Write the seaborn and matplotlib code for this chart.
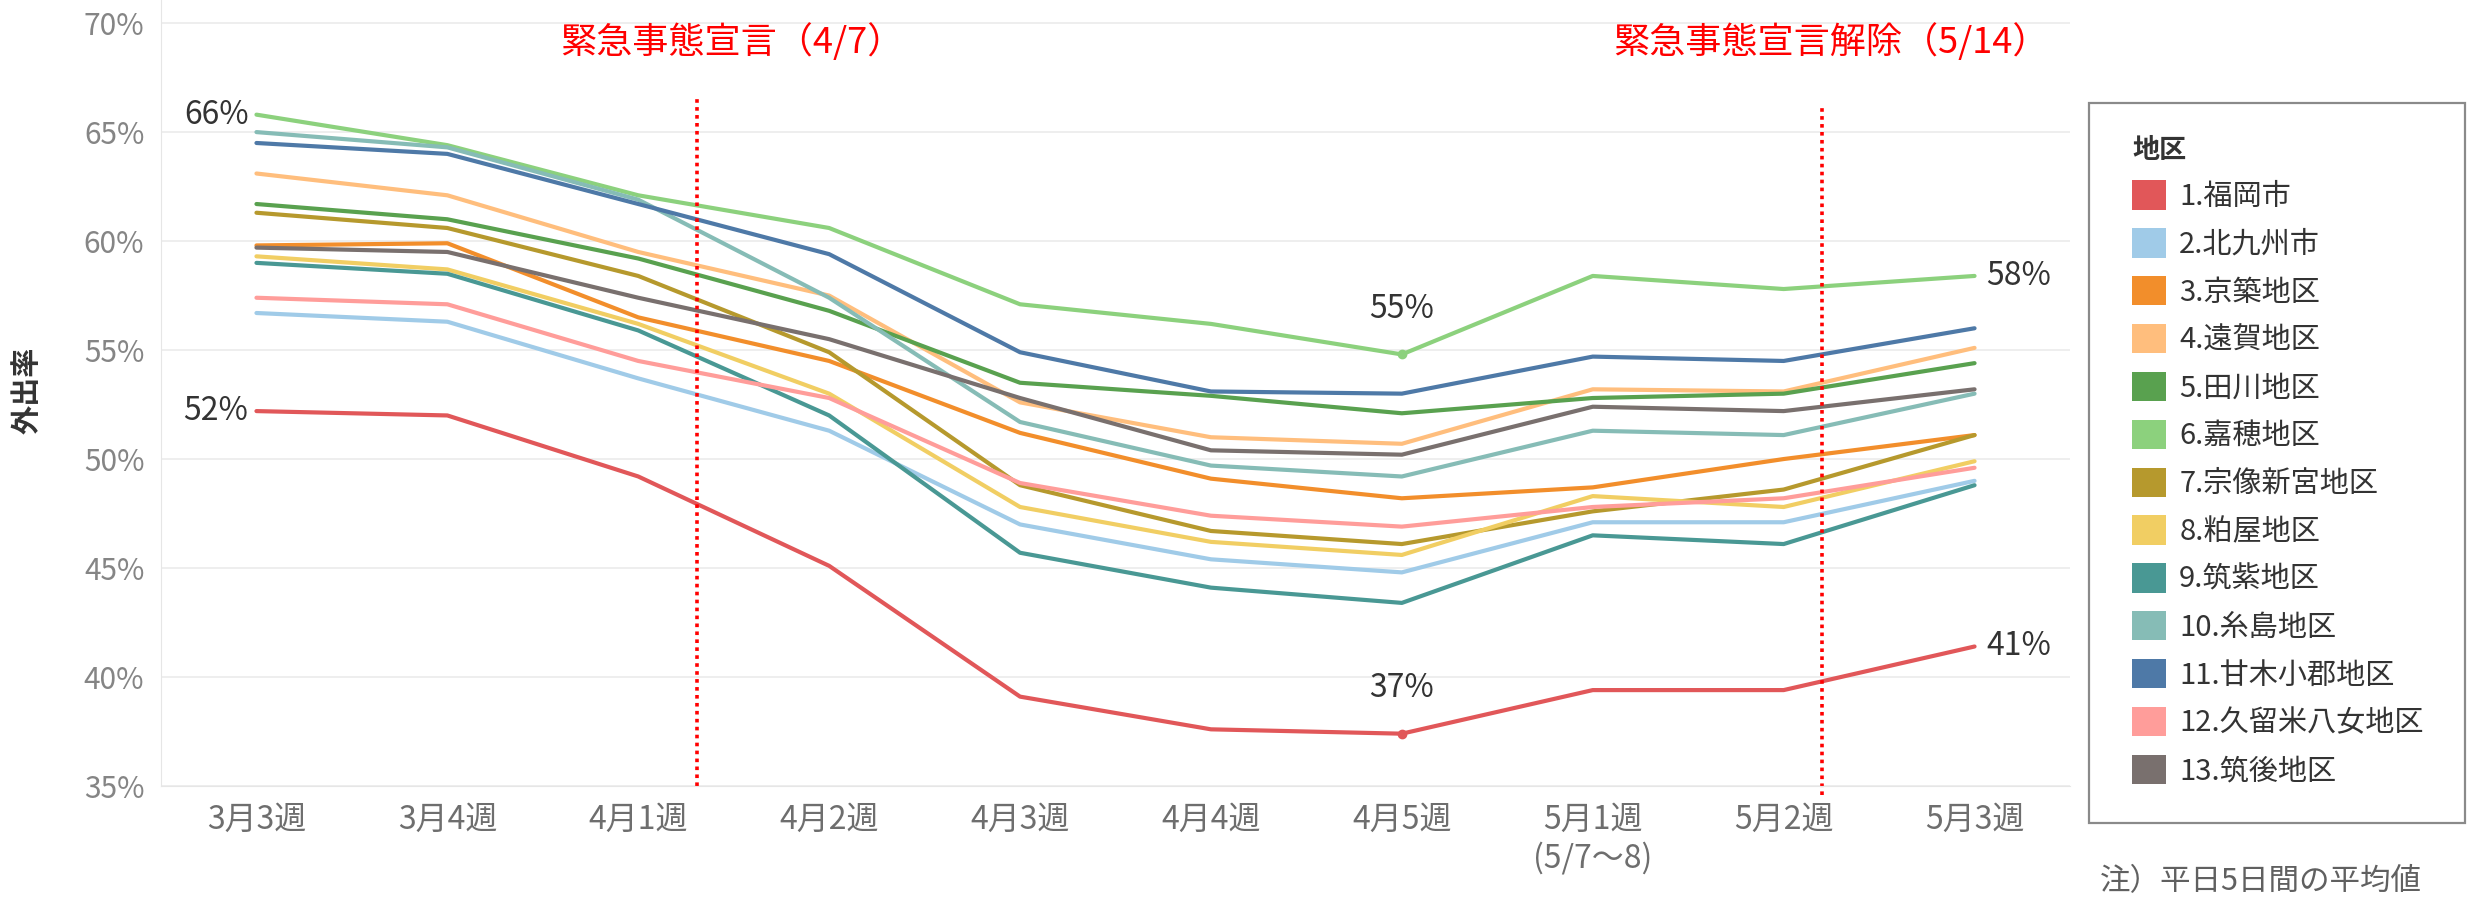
import pandas as pd
import seaborn as sns
import matplotlib.pyplot as plt
from matplotlib.patches import Patch, Rectangle

# 週ラベル
weeks = ["3月3週", "3月4週", "4月1週", "4月2週", "4月3週", "4月4週", "4月5週",
         "5月1週\n(5/7～8)", "5月2週", "5月3週"]

regions = ["1.福岡市", "2.北九州市", "3.京築地区", "4.遠賀地区", "5.田川地区",
           "6.嘉穂地区", "7.宗像新宮地区", "8.粕屋地区", "9.筑紫地区", "10.糸島地区",
           "11.甘木小郡地区", "12.久留米八女地区", "13.筑後地区"]

colors = ["#E15759", "#A0CBE8", "#F28E2B", "#FFBE7D", "#59A14F", "#8CD17D", "#B6992D",
          "#F1CE63", "#499894", "#86BCB6", "#4E79A7", "#FF9D9A", "#79706E"]

# 外出率 (%)
fukuoka = [52.2, 52.0, 49.2, 45.1, 39.1, 37.6, 37.4, 39.4, 39.4, 41.4]
kitakyushu = [56.7, 56.3, 53.7, 51.3, 47.0, 45.4, 44.8, 47.1, 47.1, 49.0]
keichiku = [59.8, 59.9, 56.5, 54.5, 51.2, 49.1, 48.2, 48.7, 50.0, 51.1]
onga = [63.1, 62.1, 59.5, 57.5, 52.6, 51.0, 50.7, 53.2, 53.1, 55.1]
tagawa = [61.7, 61.0, 59.2, 56.8, 53.5, 52.9, 52.1, 52.8, 53.0, 54.4]
kaho = [65.8, 64.4, 62.1, 60.6, 57.1, 56.2, 54.8, 58.4, 57.8, 58.4]
munakata = [61.3, 60.6, 58.4, 54.9, 48.8, 46.7, 46.1, 47.6, 48.6, 51.1]
kasuya = [59.3, 58.7, 56.2, 53.0, 47.8, 46.2, 45.6, 48.3, 47.8, 49.9]
chikushi = [59.0, 58.5, 55.9, 52.0, 45.7, 44.1, 43.4, 46.5, 46.1, 48.8]
itoshima = [65.0, 64.3, 61.9, 57.4, 51.7, 49.7, 49.2, 51.3, 51.1, 53.0]
amagi = [64.5, 64.0, 61.7, 59.4, 54.9, 53.1, 53.0, 54.7, 54.5, 56.0]
kurume = [57.4, 57.1, 54.5, 52.8, 48.9, 47.4, 46.9, 47.8, 48.2, 49.6]
chikugo = [59.7, 59.5, 57.4, 55.5, 52.8, 50.4, 50.2, 52.4, 52.2, 53.2]

series = [fukuoka, kitakyushu, keichiku, onga, tagawa, kaho, munakata,
          kasuya, chikushi, itoshima, amagi, kurume, chikugo]

# イベント (週の間の位置)
events = [(2.31, 66.7, 35.0, "緊急事態宣言（4/7）", 2.49),
          (8.2, 66.25, 34.6, "緊急事態宣言解除（5/14）", 8.25)]

rows = []
for name, vals in zip(regions, series):
    for i, v in enumerate(vals):
        rows.append({"地区": name, "x": i, "外出率": v})
df = pd.DataFrame(rows)
palette = dict(zip(regions, colors))

sns.set_style("white")
plt.rcParams['font.family'] = ['Noto Sans CJK JP', 'DejaVu Sans']

W, H = 2478, 901
fig = plt.figure(figsize=(W / 100, H / 100), dpi=100)
ax = fig.add_axes([161 / W, 1 - 786 / H, (2070 - 161) / W, 786 / H])

sns.lineplot(data=df, x="x", y="外出率", hue="地区", hue_order=regions, palette=palette,
             sort=False, linewidth=3.0, legend=False, ax=ax)

ax.set_xlim(-0.5, 9.5)
ax.set_ylim(35, 71.06)
ax.set_xticks(range(len(weeks)))
ax.set_xticklabels(weeks, fontsize=23, color="#6e6e6e", linespacing=1.2)
ax.set_xticks([i - 0.5 for i in range(len(weeks) + 1)], minor=True)
ax.tick_params(axis="x", which="major", length=0, pad=13)
ax.tick_params(axis="x", which="minor", length=9, color="#e3e3e3", width=1.2)
yt = list(range(35, 71, 5))
ax.set_yticks(yt)
ax.set_yticklabels([f"{v}%" for v in yt], fontsize=21.5, color="#858585")
ax.tick_params(axis="y", length=0, pad=12)
ax.set_xlabel("")
ax.set_ylabel("")
ax.yaxis.grid(True, color="#ededed", linewidth=1.3)
ax.set_axisbelow(True)
for s in ["top", "right"]:
    ax.spines[s].set_visible(False)
ax.spines["left"].set_color("#e6e6e6")
ax.spines["bottom"].set_color("#e6e6e6")

fig.text(27 / W, 1 - 390 / H, "外出率", rotation=90, fontsize=21, fontweight="bold",
         color="#333333", ha="center", va="center")

# 緊急事態宣言の線
for xpos, ytop, ybot, label, tx in events:
    ax.plot([xpos, xpos], [ybot, ytop], color="#FF0000", linestyle=(0, (1, 1.2)),
            linewidth=2.6, clip_on=False)
    ax.text(tx, 69.15, label, color="#FF0000", fontsize=26, ha="center", va="center")

# データラベル
lab = dict(fontsize=23, color="#333333", textcoords="offset pixels")
ax.annotate(f"{kaho[0]:.0f}%", (0, kaho[0]), xytext=(-8, 0), ha="right", va="center", **lab)
ax.annotate(f"{fukuoka[0]:.0f}%", (0, fukuoka[0]), xytext=(-8, 0), ha="right", va="center", **lab)
ax.annotate(f"{kaho[6]:.0f}%", (6, kaho[6]), xytext=(0, 45), ha="center", va="center", **lab)
ax.annotate(f"{fukuoka[6]:.0f}%", (6, fukuoka[6]), xytext=(0, 46), ha="center", va="center", **lab)
ax.annotate(f"{kaho[9]:.0f}%", (9, kaho[9]), xytext=(12, 0), ha="left", va="center", **lab)
ax.annotate(f"{fukuoka[9]:.0f}%", (9, fukuoka[9]), xytext=(12, 0), ha="left", va="center", **lab)
ax.plot([6], [kaho[6]], "o", color=palette[regions[5]], markersize=6)
ax.plot([6], [fukuoka[6]], "o", color=palette[regions[0]], markersize=6)

# 凡例
fig.add_artist(Rectangle((2089 / W, 1 - 823 / H), (2465 - 2089) / W, (823 - 103) / H,
                         transform=fig.transFigure, facecolor="white",
                         edgecolor="#8a8a8a", linewidth=1.6))
handles = [Patch(facecolor=palette[r], edgecolor="none", label=r) for r in regions]
leg = fig.legend(handles=handles, title="地区", loc="upper left",
                 bbox_to_anchor=(2132 / W, 1 - 136 / H), frameon=False,
                 fontsize=21, title_fontsize=19.5, handlelength=1.17,
                 handleheight=1.17, handletextpad=0.45, labelspacing=0.56, borderpad=0,
                 borderaxespad=0, alignment="left")
leg.get_title().set_fontweight("bold")
leg.get_title().set_color("#333333")
for t in leg.get_texts():
    t.set_color("#333333")

fig.text(2100 / W, 1 - 882 / H, "注）平日5日間の平均値", fontsize=22, color="#606060",
         ha="left", va="center")

fig.savefig("out.png", dpi=100)
